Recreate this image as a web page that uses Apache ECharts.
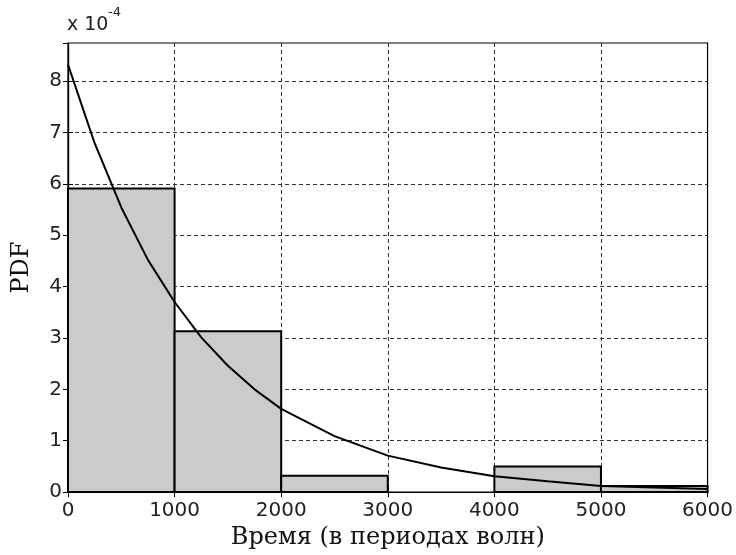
<!DOCTYPE html>
<html><head><meta charset="utf-8">
<script src="https://cdn.jsdelivr.net/npm/echarts@6/dist/echarts.min.js"></script>
<style>html,body{margin:0;padding:0;background:#fff}#c{width:736px;height:555px}</style>
</head><body><div id="c"></div>
<script>
// Histogram bins (start, end) and PDF heights
var binStart = [0, 1000, 2000, 3000, 4000, 5000];
var binEnd   = [1000, 2000, 3000, 4000, 5000, 6000];
var binPdf   = [5.91e-4, 3.13e-4, 0.32e-4, 0, 0.50e-4, 0.12e-4];
// Fitted curve
var curveX = [0, 250, 500, 750, 1000, 1250, 1500, 1750, 2000, 2500, 3000, 3500, 4000, 4500, 5000, 5500, 6000];
var curveY = [8.32e-4, 6.79e-4, 5.54e-4, 4.52e-4, 3.70e-4, 3.01e-4, 2.46e-4, 2.00e-4, 1.62e-4, 1.09e-4, 0.71e-4, 0.48e-4, 0.31e-4, 0.21e-4, 0.12e-4, 0.09e-4, 0.06e-4];
var xTicks = [0, 1000, 2000, 3000, 4000, 5000, 6000];
var yTicks = [0, 1, 2, 3, 4, 5, 6, 7, 8];

var chart = echarts.init(document.getElementById('c'), null, {renderer: 'canvas'});
var sans = '"DejaVu Sans", "Liberation Sans", sans-serif';
var serif = '"DejaVu Serif", "Liberation Serif", serif';
var grid = {left: 68, right: 28, top: 43, bottom: 62, show: true, borderColor: '#000', borderWidth: 1.2, backgroundColor: '#fff'};
var dashed = {show: true, showMinLine: false, showMaxLine: false, lineStyle: {color: '#333', width: 1, type: [4, 3]}};

var option = {
  animation: false,
  grid: grid,
  xAxis: [{
    type: 'value', min: 0, max: 6000, interval: 1000,
    name: 'Время (в периодах волн)', nameLocation: 'middle', nameGap: 29,
    nameTextStyle: {fontFamily: serif, fontSize: 24, color: '#111'},
    axisLine: {show: true, lineStyle: {color: '#000', width: 1.2}},
    axisTick: {show: true, inside: true, length: 5, lineStyle: {color: '#000'}},
    axisLabel: {fontFamily: sans, fontSize: 20, color: '#222', margin: 9,
      formatter: function (v) { return xTicks.indexOf(v) >= 0 ? String(v) : ''; }},
    splitLine: dashed
  }, {
    type: 'value', position: 'top', min: 0, max: 6000, interval: 1000,
    axisLine: {show: true, lineStyle: {color: '#000', width: 1.2}},
    axisTick: {show: true, inside: true, length: 5, lineStyle: {color: '#000'}},
    axisLabel: {show: false}, splitLine: {show: false}
  }],
  yAxis: [{
    type: 'value', min: 0, max: 8.74e-4, interval: 1e-4,
    name: 'PDF', nameLocation: 'middle', nameGap: 34,
    nameTextStyle: {fontFamily: serif, fontSize: 24, color: '#111'},
    axisLine: {show: true, lineStyle: {color: '#000', width: 1.2}},
    axisTick: {show: true, inside: true, length: 5, lineStyle: {color: '#000'}},
    axisLabel: {fontFamily: sans, fontSize: 20, color: '#222', margin: 6, showMaxLabel: false,
      formatter: function (v) { var k = Math.round(v * 1e4); return (Math.abs(v * 1e4 - k) < 1e-6 && yTicks.indexOf(k) >= 0) ? String(k) : ''; }},
    splitLine: dashed
  }, {
    type: 'value', position: 'right', min: 0, max: 8.74e-4, interval: 1e-4,
    axisLine: {show: true, lineStyle: {color: '#000', width: 1.2}},
    axisTick: {show: true, inside: true, length: 5, lineStyle: {color: '#000'}},
    axisLabel: {show: false}, splitLine: {show: false}
  }],
  graphic: [{
    type: 'text', left: 67, top: 16,
    style: {text: 'x 10', fontFamily: sans, fontSize: 19, fill: '#222'}
  }, {
    type: 'text', left: 108, top: 6,
    style: {text: '-4', fontFamily: sans, fontSize: 13, fill: '#222'}
  }],
  series: [{
    type: 'custom',
    data: binStart.map(function (s, i) { return [s, binEnd[i], binPdf[i]]; }),
    encode: {x: [0, 1], y: 2},
    renderItem: function (params, api) {
      var p0 = api.coord([api.value(0), 0]);
      var p1 = api.coord([api.value(1), api.value(2)]);
      var h = p0[1] - p1[1];
      if (h <= 0.1) return null;
      return {
        type: 'rect',
        shape: {x: p0[0], y: p1[1], width: p1[0] - p0[0], height: h},
        style: {fill: '#cbcbcb', stroke: '#000', lineWidth: 2}
      };
    },
    z: 2
  }, {
    type: 'line',
    data: curveX.map(function (x, i) { return [x, curveY[i]]; }),
    showSymbol: false, smooth: false,
    lineStyle: {color: '#000', width: 2},
    z: 3
  }]
};
chart.setOption(option);
</script></body></html>
